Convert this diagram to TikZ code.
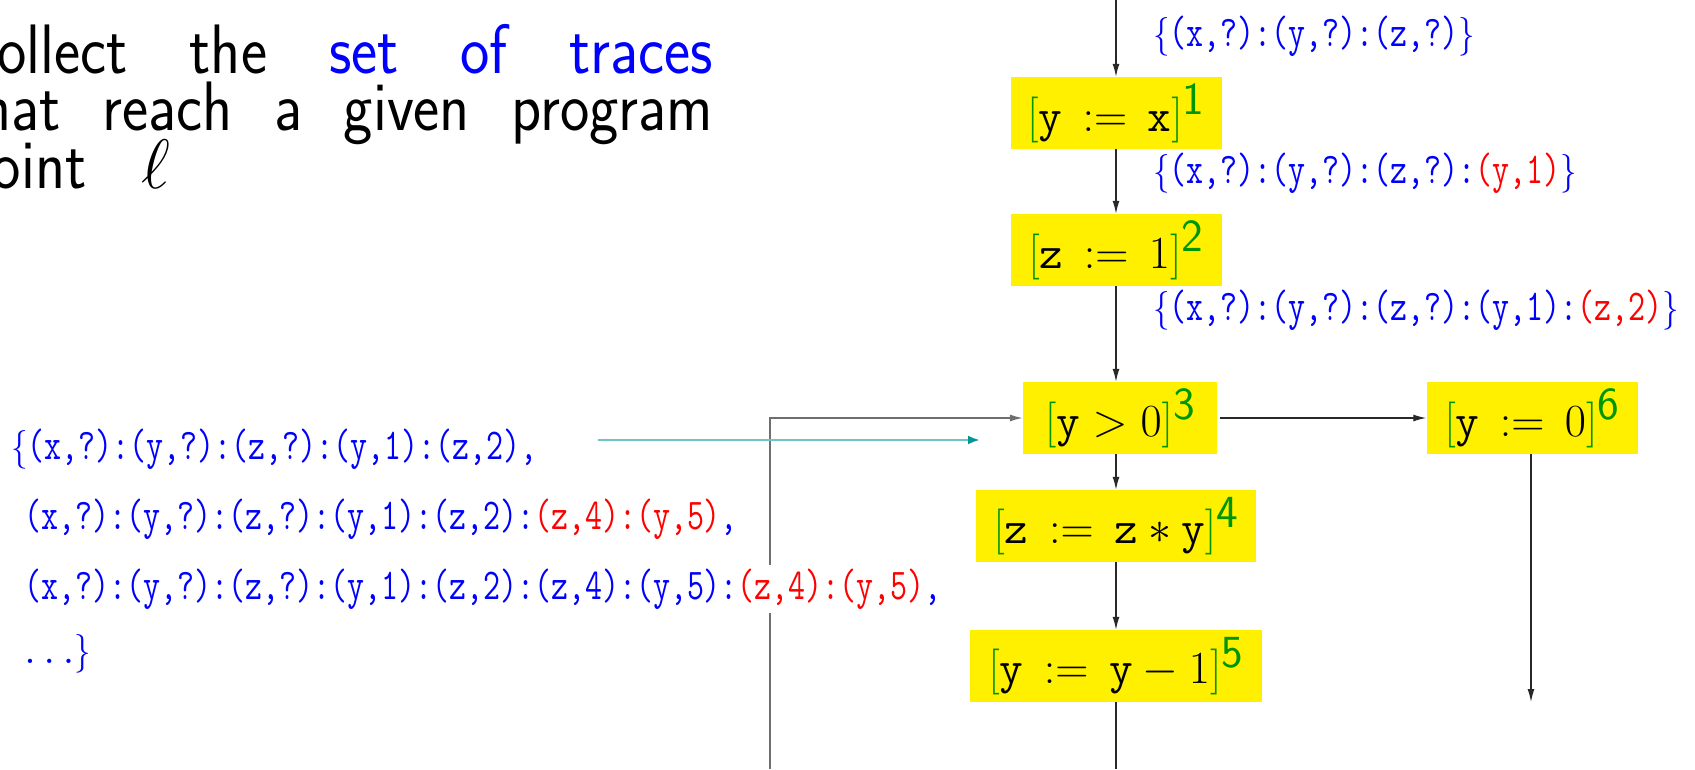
\RequirePackage{fix-cm}
\documentclass[tikz,border=0pt]{standalone}
\usepackage{fontspec}
\usetikzlibrary{arrows.meta}
\newfontfamily\condtt[FakeStretch=0.75]{Latin Modern Mono}
\newfontfamily\condsf[FakeStretch=0.89]{Latin Modern Sans}
\definecolor{hlyellow}{RGB}{255,240,0}
\definecolor{lblgreen}{RGB}{0,150,0}
\definecolor{tealline}{RGB}{110,196,196}
\definecolor{tealtip}{RGB}{0,150,150}
\definecolor{flowline}{RGB}{40,40,40}
\definecolor{loopline}{RGB}{110,110,110}
\newcommand{\gb}[1]{\textcolor{lblgreen}{#1}}
\newcommand{\stmtlab}[1]{^{\textcolor{lblgreen}{\textsf{#1}}}}
\newcommand{\rd}[1]{\textcolor{red}{#1}}
\newcommand{\lbr}{\scalebox{0.75}[0.88]{$\{$}}
\newcommand{\rbr}{\scalebox{0.75}[0.88]{$\}$}}
\newcommand{\assign}{\mathrel{\,:}\mathrel{=\,}}
\begin{document}
\begin{tikzpicture}[x=1pt,y=-1pt,
  stmtbox/.style={fill=hlyellow, inner xsep=0pt, inner ysep=0pt, minimum height=72pt,
    font=\fontsize{46}{52}\selectfont},
  tracelab/.style={anchor=west, inner sep=0pt, text=blue, font=\fontsize{44}{50}\selectfont\condtt},
  settext/.style={anchor=west, inner xsep=0pt, inner ysep=4pt, text=blue, font=\fontsize{44}{50}\selectfont\condtt},
  titletext/.style={anchor=base west, inner sep=0pt, text height=42pt, text depth=0pt,
    font=\fontsize{70}{70}\selectfont\condsf},
  flow/.style={draw=flowline, line width=1.3pt, -{Latex[length=13pt,width=7pt]}},
  flowplain/.style={draw=flowline, line width=1.3pt},
  loop/.style={draw=loopline, line width=1.5pt},
  tealarrow/.style={draw=tealline, line width=2.5pt, -{Latex[length=12pt,width=9pt,color=tealtip]}}
]
\useasboundingbox (0,0) rectangle (1695,769);
\begin{scope}
\clip (0,0) rectangle (1695,769);
% title
\node[titletext] (t1) at (-40,73) {\makebox[753pt][s]{Collect the \textcolor{blue}{set of traces}}};
\node[titletext] (t2) at (-40,130) {\makebox[753pt][s]{that reach a given program}};
\node[titletext] (t3) at (-40,188) {point\hspace{55pt}$\ell$};

% statement boxes
\node[stmtbox, minimum width=211pt] (b1) at (1116,113) {$\gb{[}\mathtt{y} \assign \mathtt{x}\gb{]}\stmtlab{1}$};
\node[stmtbox, minimum width=211pt] (b2) at (1116,250) {$\gb{[}\mathtt{z} \assign 1\gb{]}\stmtlab{2}$};
\node[stmtbox, minimum width=194pt] (b3) at (1120,418) {$\gb{[}\mathtt{y} > 0\gb{]}\stmtlab{3}$};
\node[stmtbox, minimum width=280pt] (b4) at (1116,526) {$\gb{[}\mathtt{z} \assign \mathtt{z} * \mathtt{y}\gb{]}\stmtlab{4}$};
\node[stmtbox, minimum width=292pt] (b5) at (1116,666) {$\gb{[}\mathtt{y} \assign \mathtt{y} - 1\gb{]}\stmtlab{5}$};
\node[stmtbox, minimum width=211pt] (b6) at (1532,418) {$\gb{[}\mathtt{y} \assign 0\gb{]}\stmtlab{6}$};

% trace labels on the right
\node[tracelab] (l1) at (1153,36) {\lbr(x,?):(y,?):(z,?)\rbr};
\node[tracelab] (l2) at (1153,173) {\lbr(x,?):(y,?):(z,?):\rd{(y,1)}\rbr};
\node[tracelab] (l3) at (1153,310) {\lbr(x,?):(y,?):(z,?):(y,1):\rd{(z,2)}\rbr};

% coordinates
\coordinate (top) at (1116,0);
\coordinate (b5end) at (1116,769);
\coordinate (loopstart) at (770,769);
\coordinate (loopcorner) at (770,418);
\coordinate (b6end) at (1531,702);
\coordinate (tealstart) at (598,440);
\coordinate (tealend) at (980,440);

% flow arrows
\draw[flow] (top) -- (b1.north);
\draw[flow] (b1.south) -- (b2.north);
\draw[flow] (b2.south -| top) -- (b3.north -| top);
\draw[flow] (b3.south -| top) -- (b4.north);
\draw[flow] (b4.south) -- (b5.north);
\draw[flowplain] (b5.south) -- (b5end);
\draw[flow, shorten <=3pt] (b3.east) -- (b6.west);
\draw[flow] (b6.south -| b6end) -- (b6end);
\draw[loop, -{Latex[length=13pt,width=7pt]}] (loopstart) -- (loopcorner) -- (b3.west);

% set of traces at the left
\node[settext] (s1) at (11,449) {\lbr(x,?):(y,?):(z,?):(y,1):(z,2),};
\node[settext] (s2) at (24,519) {(x,?):(y,?):(z,?):(y,1):(z,2):\rd{(z,4):(y,5)},};
\node[settext, fill=white] (s3) at (24,589) {(x,?):(y,?):(z,?):(y,1):(z,2):(z,4):(y,5):\rd{(z,4):(y,5)},};
\node[settext] (s4) at (24,654) {$\ldots$\rbr};

\draw[tealarrow] (tealstart) -- (tealend);
\end{scope}
\end{tikzpicture}
\end{document}
